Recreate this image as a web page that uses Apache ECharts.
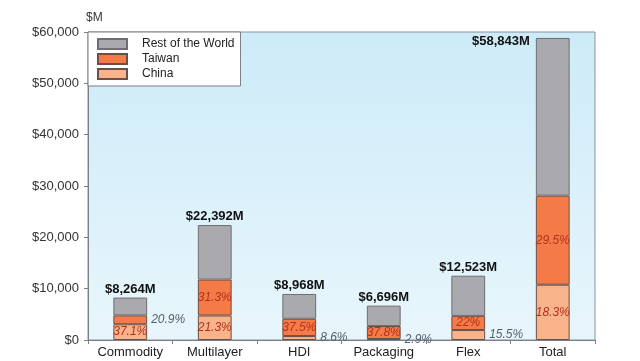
<!DOCTYPE html>
<html>
<head>
<meta charset="utf-8">
<script src="https://cdn.jsdelivr.net/npm/echarts@6/dist/echarts.min.js"></script>
<style>html,body{margin:0;padding:0;background:#fff;}#c{width:640px;height:361px;}</style>
</head>
<body>
<div id="c"></div>
<script>
const categories = ['Commodity', 'Multilayer', 'HDI', 'Packaging\nSubstrate', 'Flex', 'Total'];
const totals = [8264, 22392, 8968, 6696, 12523, 58843];
const chinaValues = [3066, 4770, 771, 194, 1941, 10768];
const taiwanValues = [1727, 7009, 3363, 2531, 2755, 17359];
const restValues = [3471, 10613, 4834, 3971, 7827, 30716];
const chinaPct = ['37.1%', '21.3%', '8.6%', '2.9%', '15.5%', '18.3%'];
const taiwanPct = ['20.9%', '31.3%', '37.5%', '37.8%', '22%', '29.5%'];
const yTicks = [0, 10000, 20000, 30000, 40000, 50000, 60000];

const FONT = '"Liberation Sans", Arial, sans-serif';
const insideLbl = { show: true, position: 'inside', color: '#b3321c', fontStyle: 'italic', fontSize: 12, fontFamily: FONT };
const outsideLbl = { show: true, position: 'right', distance: 4, color: '#556070', fontStyle: 'italic', fontSize: 12, fontFamily: FONT };

const chinaInside = [true, true, false, false, false, true];
const taiwanInside = [false, true, true, true, true, true];

function fmtMoney(v) { return '$' + v.toLocaleString('en-US'); }

const chinaData = chinaValues.map((v, i) => ({
  value: v,
  label: Object.assign({}, chinaInside[i] ? insideLbl : outsideLbl, { formatter: chinaPct[i] })
}));
const taiwanData = taiwanValues.map((v, i) => ({
  value: v,
  label: Object.assign({}, taiwanInside[i] ? insideLbl : outsideLbl, { formatter: taiwanPct[i] })
}));
const totalLbl = { show: true, color: '#111', fontWeight: 'bold', fontSize: 13, fontFamily: FONT };
const restData = restValues.map((v, i) => ({
  value: v,
  label: i === totals.length - 1
    ? Object.assign({}, totalLbl, { position: [-6, 3], align: 'right', verticalAlign: 'middle', formatter: fmtMoney(totals[i]) + 'M' })
    : Object.assign({}, totalLbl, { position: 'top', distance: 2, formatter: fmtMoney(totals[i]) + 'M' })
}));

const chart = echarts.init(document.getElementById('c'), null, { renderer: 'canvas' });
const barBorder = { borderColor: '#6b5048', borderWidth: 1 };
chart.setOption({
  animation: false,
  backgroundColor: '#ffffff',
  title: { text: '$M', left: 81, top: 7, textStyle: { fontSize: 12, fontWeight: 'normal', color: '#333', fontFamily: FONT } },
  legend: {
    data: ['Rest of the World', 'Taiwan', 'China'],
    orient: 'vertical', left: 88, top: 32, icon: 'rect',
    padding: [6, 6, 6, 9], itemGap: 3, itemWidth: 29, itemHeight: 10,
    backgroundColor: '#ffffff', borderColor: '#7a7f88', borderWidth: 1,
    textStyle: { fontSize: 12, color: '#222', fontFamily: FONT, padding: [0, 0, 0, 10] }
  },
  grid: {
    left: 88, right: 45, top: 32, bottom: 21, outerBoundsMode: 'none', containLabel: false,
    show: true, borderColor: '#8a9098', borderWidth: 1,
    backgroundColor: new echarts.graphic.LinearGradient(0, 0, 0, 1, [
      { offset: 0, color: '#cdebf8' }, { offset: 1, color: '#e8f6fc' }
    ])
  },
  xAxis: {
    type: 'category', data: categories,
    axisLine: { lineStyle: { color: '#7a8088' } },
    axisTick: { show: true, alignWithLabel: false, length: 4, lineStyle: { color: '#7a8088' } },
    axisLabel: { color: '#222', fontSize: 13, fontFamily: FONT, margin: 5, lineHeight: 15, interval: 0 }
  },
  yAxis: {
    type: 'value', min: 0, max: 60000, interval: 10000,
    axisLine: { show: true, lineStyle: { color: '#7a8088' } },
    axisTick: { show: true, length: 4, lineStyle: { color: '#7a8088' } },
    splitLine: { show: false },
    axisLabel: { color: '#333', fontSize: 13, fontFamily: FONT, margin: 9, formatter: v => fmtMoney(v) }
  },
  series: [
    { name: 'China', type: 'bar', stack: 'a', barWidth: '40%', data: chinaData,
      itemStyle: Object.assign({ color: '#f8b38a' }, barBorder) },
    { name: 'Taiwan', type: 'bar', stack: 'a', barWidth: '40%', data: taiwanData,
      itemStyle: Object.assign({ color: '#f47a48' }, barBorder) },
    { name: 'Rest of the World', type: 'bar', stack: 'a', barWidth: '40%', data: restData,
      itemStyle: { color: '#a9a9ae', borderColor: '#6e6e74', borderWidth: 1 } }
  ]
});
</script>
</body>
</html>
